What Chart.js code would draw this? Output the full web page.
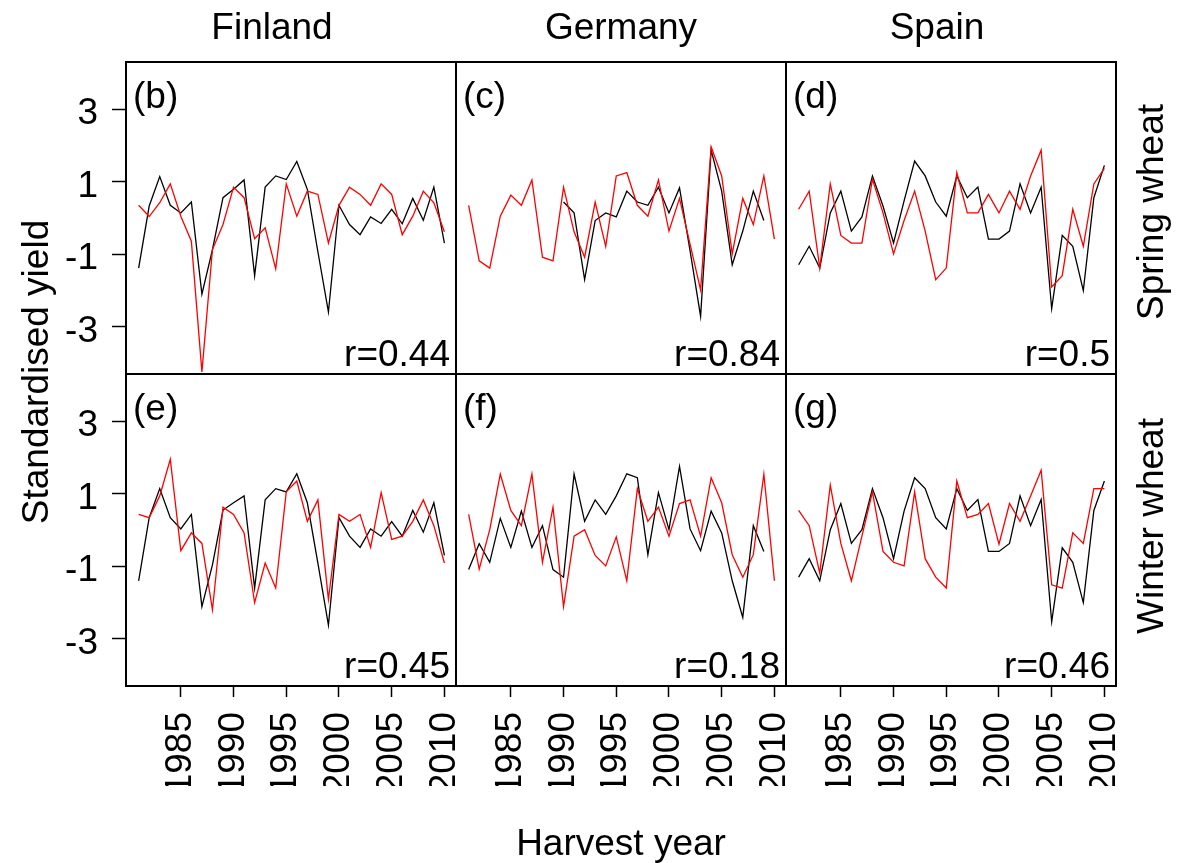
<!DOCTYPE html>
<html>
<head>
<meta charset="utf-8">
<title>Standardised yield</title>
<script src="https://cdn.jsdelivr.net/npm/chart.js@4.4.1/dist/chart.umd.min.js"></script>
<style>
  html, body { margin: 0; padding: 0; background: #ffffff; }
  #wrap { width: 1180px; height: 863px; }
</style>
</head>
<body>
<div id="wrap"><canvas id="yieldChart" width="1180" height="863"></canvas></div>
<script>
// HARVEST YEARS
var years = [1981, 1982, 1983, 1984, 1985, 1986, 1987, 1988, 1989, 1990,
  1991, 1992, 1993, 1994, 1995, 1996, 1997, 1998, 1999, 2000,
  2001, 2002, 2003, 2004, 2005, 2006, 2007, 2008, 2009, 2010];
var xTicks = [1985, 1990, 1995, 2000, 2005, 2010];
var yTicks = [-3, -1, 1, 3];

// SPRING WHEAT (black / red)
var finSpringBlack = [-1.38, 0.33, 1.14, 0.35, 0.14, 0.44, -2.10, -0.87, 0.56, 0.79, 1.05, -1.59, 0.85, 1.16, 1.06, 1.56, 0.79, -0.93, -2.59, 0.35, -0.18, -0.46, 0.03, -0.15, 0.24, -0.16, 0.54, -0.06, 0.85, -0.69];
var finSpringRed = [0.35, 0.04, 0.42, 0.94, 0.05, -0.64, -4.24, -0.87, -0.18, 0.85, 0.56, -0.57, -0.27, -1.40, 0.94, 0.05, 0.74, 0.65, -0.69, 0.35, 0.85, 0.65, 0.35, 0.94, 0.65, -0.46, 0.05, 0.74, 0.42, -0.38];
var gerSpringBlack = [null, null, null, null, null, null, null, null, null, 0.44, 0.14, -1.70, -0.07, 0.14, 0.03, 0.74, 0.44, 0.35, 0.85, 0.14, 0.83, -0.90, -2.71, 1.87, 0.74, -1.29, -0.36, 0.74, -0.07, null];
var gerSpringRed = [0.35, -1.18, -1.38, 0.05, 0.63, 0.35, 1.05, -1.08, -1.18, 0.85, -0.38, -1.08, 0.44, -0.78, 1.16, 1.25, 0.35, 0.05, 1.05, -0.36, 0.54, -0.72, -1.98, 1.96, 1.16, -0.99, 0.54, -0.18, 1.16, -0.58];
var spaSpringBlack = [-1.29, -0.78, -1.38, 0.14, 0.74, -0.36, 0.03, 1.16, 0.33, -0.69, 0.47, 1.57, 1.16, 0.44, 0.05, 1.16, 0.56, 0.85, -0.58, -0.58, -0.36, 0.94, 0.14, 0.85, -2.50, -0.48, -0.78, -2.00, 0.56, 1.45];
var spaSpringRed = [0.24, 0.74, -1.38, 0.94, -0.48, -0.69, -0.69, 1.07, 0.14, -0.99, -0.07, 0.74, -0.36, -1.70, -1.38, 1.25, 0.14, 0.14, 0.65, 0.14, 0.74, 0.24, 1.16, 1.87, -1.90, -1.59, 0.24, -0.78, 0.94, 1.37];

// WINTER WHEAT (black / red)
var finWinterBlack = [-1.40, 0.34, 1.14, 0.34, 0.03, 0.43, -2.11, -0.96, 0.55, 0.75, 0.94, -1.60, 0.83, 1.14, 1.05, 1.55, 0.75, -0.91, -2.62, 0.34, -0.17, -0.48, 0.03, -0.17, 0.23, -0.17, 0.54, -0.06, 0.75, -0.70];
var finWinterRed = [0.43, 0.34, 0.94, 1.95, -0.57, -0.08, -0.37, -2.20, 0.63, 0.43, -0.08, -2.00, -0.91, -1.60, 1.05, 1.35, 0.24, 0.83, -1.91, 0.43, 0.24, 0.43, -0.48, 1.03, -0.26, -0.17, 0.24, 0.83, 0.12, -0.91];
var gerWinterBlack = [-1.09, -0.38, -0.89, 0.32, -0.48, 0.52, -0.48, 0.12, -1.09, -1.30, 1.54, 0.24, 0.83, 0.43, 0.94, 1.55, 1.44, -0.68, 1.03, 0.01, 1.75, 0.03, -0.57, 0.52, -0.08, -1.40, -2.41, 0.12, -0.59, null];
var gerWinterRed = [0.43, -1.08, 0.01, 1.54, 0.54, 0.12, 1.54, -0.89, 0.63, -2.11, -0.17, 0.01, -0.70, -0.99, -0.19, -1.40, 1.14, 0.24, 0.63, -0.17, 0.73, 0.83, -0.17, 1.44, 0.75, -0.68, -1.30, -0.68, 1.54, -1.40];
var spaWinterBlack = [-1.30, -0.79, -1.40, 0.01, 0.73, -0.37, 0.01, 1.14, 0.34, -0.79, 0.52, 1.44, 1.14, 0.34, 0.03, 1.14, 0.54, 0.84, -0.59, -0.59, -0.37, 0.94, 0.12, 0.84, -2.53, -0.49, -0.89, -2.00, 0.54, 1.35];
var spaWinterRed = [0.54, 0.12, -1.19, 1.24, -0.37, -1.40, -0.17, 1.05, -0.59, -0.89, -0.99, 1.05, -0.79, -1.30, -1.60, 1.35, 0.34, 0.43, 0.73, -0.39, 0.73, 0.24, 0.94, 1.65, -1.51, -1.60, -0.08, -0.37, 1.14, 1.14];

// PANEL LABELS AND CORRELATIONS
var countries = ['Finland', 'Germany', 'Spain'];
var crops = ['Spring wheat', 'Winter wheat'];
var panelTags = ['(b)', '(c)', '(d)', '(e)', '(f)', '(g)'];
var panelR = ['r=0.44', 'r=0.84', 'r=0.5', 'r=0.45', 'r=0.18', 'r=0.46'];

var FONT = '"Liberation Sans", Arial, Helvetica, sans-serif';
var FONT_SIZE = 37;

var panels = [
  { col: 'xFin', row: 'ySpring', black: finSpringBlack, red: finSpringRed },
  { col: 'xGer', row: 'ySpring', black: gerSpringBlack, red: gerSpringRed },
  { col: 'xSpa', row: 'ySpring', black: spaSpringBlack, red: spaSpringRed },
  { col: 'xFin', row: 'yWinter', black: finWinterBlack, red: finWinterRed },
  { col: 'xGer', row: 'yWinter', black: gerWinterBlack, red: gerWinterRed },
  { col: 'xSpa', row: 'yWinter', black: spaWinterBlack, red: spaWinterRed }
];

function toPoints(values) {
  return years.map(function (yr, i) { return { x: yr, y: values[i] }; });
}

function lineSet(values, colour, p) {
  return {
    data: toPoints(values),
    borderColor: colour,
    borderWidth: 1.3,
    pointRadius: 0,
    tension: 0,
    spanGaps: false,
    xAxisID: p.col,
    yAxisID: p.row
  };
}

// RED FIRST SO IT IS PAINTED ON TOP
var datasets = [];
panels.forEach(function (p) { datasets.push(lineSet(p.red, '#ff0000', p)); });
panels.forEach(function (p) { datasets.push(lineSet(p.black, '#000000', p)); });

// NO LABEL OVERFLOW PADDING, THE LAYOUT PADDING DECIDES THE PLOT BOX
function noOverflow(scale) {
  scale.paddingLeft = 0;
  scale.paddingRight = 0;
  scale.paddingTop = 0;
  scale.paddingBottom = 0;
}

function yAxis(weight) {
  return {
    type: 'linear',
    position: 'left',
    stack: 'rows',
    weight: weight,
    min: -4.3,
    max: 4.3,
    afterBuildTicks: function (scale) {
      scale.ticks = yTicks.map(function (v) { return { value: v }; });
    },
    afterFit: function (scale) { scale.width = 100; noOverflow(scale); },
    grid: { drawOnChartArea: false, drawTicks: true, tickLength: 14, tickColor: '#000', tickWidth: 1.5 },
    border: { display: false },
    ticks: {
      color: '#000',
      font: { family: FONT, size: FONT_SIZE },
      padding: 14,
      labelOffset: 5,
      callback: function (v) { return String(v); }
    }
  };
}

function xAxis(weight) {
  return {
    type: 'linear',
    position: 'bottom',
    stack: 'cols',
    weight: weight,
    min: 1979.8,
    max: 2011.1,
    afterBuildTicks: function (scale) {
      scale.ticks = xTicks.map(function (v) { return { value: v }; });
    },
    afterFit: function (scale) { scale.height = 100; noOverflow(scale); },
    grid: { drawOnChartArea: false, drawTicks: true, tickLength: 11, tickColor: '#000', tickWidth: 1.5 },
    border: { display: false },
    ticks: {
      color: '#000',
      font: { family: FONT, size: FONT_SIZE },
      padding: 15,
      minRotation: 90,
      maxRotation: 90,
      autoSkip: false,
      callback: function (v) { return String(v); }
    }
  };
}

// BOXES, PANEL TAGS AND OUTER TITLES
var panelText = {
  id: 'panelText',
  afterDraw: function (chart) {
    var ctx = chart.ctx;
    ctx.save();
    ctx.fillStyle = '#000';
    ctx.strokeStyle = '#000';
    ctx.lineWidth = 2;
    ctx.font = FONT_SIZE + 'px ' + FONT;
    panels.forEach(function (p, i) {
      var xs = chart.scales[p.col];
      var ys = chart.scales[p.row];
      ctx.strokeRect(xs.left, ys.top, xs.right - xs.left, ys.bottom - ys.top);
      ctx.textBaseline = 'alphabetic';
      ctx.textAlign = 'left';
      ctx.fillText(panelTags[i], xs.left + 7, ys.top + 46);
      ctx.textAlign = 'right';
      ctx.fillText(panelR[i], xs.right - 6, ys.bottom - 8);
    });
    ctx.textAlign = 'center';
    ctx.fillText(countries[0], 272, 39);
    ctx.fillText(countries[1], 621, 39);
    ctx.fillText(countries[2], 937, 39);
    ctx.fillText('Harvest year', 621, 855);
    // ROTATED TITLES
    var rotated = [
      { text: 'Standardised yield', x: 48, y: 372 },
      { text: crops[0], x: 1163, y: 212 },
      { text: crops[1], x: 1163, y: 526 }
    ];
    rotated.forEach(function (t) {
      ctx.save();
      ctx.translate(t.x, t.y);
      ctx.rotate(-Math.PI / 2);
      ctx.fillText(t.text, 0, 0);
      ctx.restore();
    });
    ctx.restore();
  }
};

var ctx = document.getElementById('yieldChart').getContext('2d');
var yieldChart = new Chart(ctx, {
  type: 'line',
  data: { datasets: datasets },
  options: {
    responsive: false,
    animation: false,
    events: [],
    layout: { padding: { left: 26, top: 62, right: 64, bottom: 77 } },
    plugins: {
      legend: { display: false },
      tooltip: { enabled: false },
      title: { display: false }
    },
    scales: {
      ySpring: yAxis(2),
      yWinter: yAxis(1),
      xFin: xAxis(1),
      xGer: xAxis(2),
      xSpa: xAxis(3)
    }
  },
  plugins: [panelText]
});
</script>
</body>
</html>
